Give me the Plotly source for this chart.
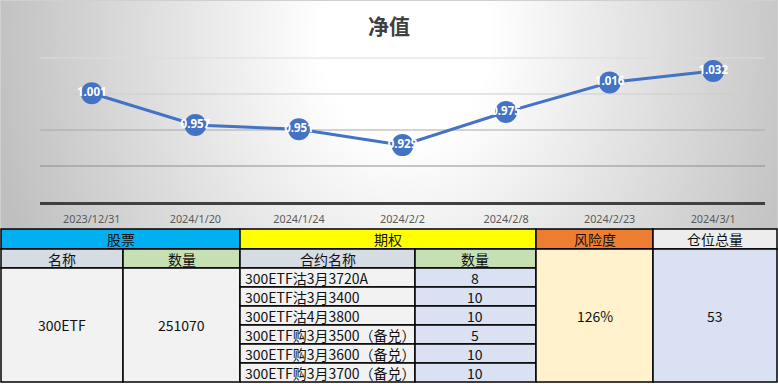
import base64
import plotly.graph_objects as go

# ---------------- data ----------------
dates = ["2023/12/31", "2024/1/20", "2024/1/24", "2024/2/2", "2024/2/8", "2024/2/23", "2024/3/1"]
nav = [1.001, 0.957, 0.951, 0.929, 0.975, 1.016, 1.032]

chart_title = "净值"
stock_header = "股票"
option_header = "期权"
risk_header = "风险度"
position_header = "仓位总量"
sub_headers = ["名称", "数量", "合约名称", "数量"]
stock_names = ["300ETF"]
stock_qty = [251070]
contracts = ["300ETF沽3月3720A", "300ETF沽3月3400", "300ETF沽4月3800",
             "300ETF购3月3500（备兑）", "300ETF购3月3600（备兑）", "300ETF购3月3700（备兑）"]
contract_qty = [8, 10, 10, 5, 10, 10]
risk_value = "126%"
total_position = [53]

# ---------------- layout helpers ----------------
W, H = 778, 384


def px(x):
    return x / W


def py(y):
    return 1 - y / H


CHART_BOTTOM = 229
COLS = [1, 123, 240, 415, 536, 653, 777]
ROWS = [229, 249, 268, 287, 306, 325, 344, 363, 382]

# radial gradient background as svg
CX, CY, R = 405, 40, 420
svg = f'''<svg xmlns="http://www.w3.org/2000/svg" width="{W}" height="{CHART_BOTTOM}" viewBox="0 0 {W} {CHART_BOTTOM}" preserveAspectRatio="none">
<defs><radialGradient id="g" gradientUnits="userSpaceOnUse" cx="{CX}" cy="{CY}" r="{R}"
 gradientTransform="translate({CX} {CY}) scale(1 1.2) translate(-{CX} -{CY})">
<stop offset="0" stop-color="#ffffff"/><stop offset="0.2" stop-color="#ffffff"/>
<stop offset="1" stop-color="#bfbfbf"/></radialGradient></defs>
<rect x="0" y="0" width="{W}" height="{CHART_BOTTOM}" fill="url(#g)"/></svg>'''
svg_uri = "data:image/svg+xml;base64," + base64.b64encode(svg.encode()).decode()

fig = go.Figure()
fig.add_trace(go.Scatter(
    x=dates, y=nav, mode="lines+markers+text",
    text=[f"{v:.3f}" for v in nav], textposition="middle center",
    textfont=dict(color="white", size=11.5, family="Noto Sans", weight="bold"),
    line=dict(color="#4472C4", width=3),
    marker=dict(color="#4472C4", size=22),
    cliponaxis=False, hoverinfo="skip", showlegend=False,
))

shapes = []
annotations = []

# axis range / gridlines (gridline tone darkens towards the bottom, as in the source)
Y0, Y1, DT = 0.85, 1.056, 0.05
grid_vals = [round(Y0 + DT * k, 2) for k in range(1, 5)]
grid_cols = ["#8E8E8E", "#A8A8A8", "#CDCDCD", "#DCDCDC"]
for gv, gc in zip(grid_vals, grid_cols):
    shapes.append(dict(type="line", xref="paper", yref="y", x0=px(40), x1=px(765), y0=gv, y1=gv,
                       line=dict(color=gc, width=1), layer="below"))

# chart border
shapes.append(dict(type="rect", xref="paper", yref="paper", x0=px(0.5), x1=px(777.5),
                   y0=py(CHART_BOTTOM), y1=py(0.5), line=dict(color="#D0D0D0", width=1), layer="below"))

annotations.append(dict(text=f"<b>{chart_title}</b>", x=0.5, y=py(25), xref="paper", yref="paper",
                        showarrow=False, xanchor="center", yanchor="middle",
                        font=dict(size=21, color="#404040", family="Noto Sans CJK SC")))

TFONT = dict(size=14, color="#111111", family="Noto Sans CJK SC")


def cell(x0, x1, y0, y1, fill, text=None, align="center"):
    shapes.append(dict(type="rect", xref="paper", yref="paper",
                       x0=px(x0), x1=px(x1), y0=py(y1), y1=py(y0),
                       fillcolor=fill, line=dict(color="#000000", width=1.5), layer="above"))
    if text is not None:
        if align == "left":
            ax, anchor = px(x0 + 3), "left"
        else:
            ax, anchor = px((x0 + x1) / 2), "center"
        annotations.append(dict(text=str(text), x=ax, y=py((y0 + y1) / 2), xref="paper", yref="paper",
                                showarrow=False, xanchor=anchor, yanchor="middle", font=TFONT))


# header row
cell(COLS[0], COLS[2], ROWS[0], ROWS[1], "#00B0F0", stock_header)
cell(COLS[2], COLS[4], ROWS[0], ROWS[1], "#FFFF00", option_header)
cell(COLS[4], COLS[5], ROWS[0], ROWS[1], "#ED7D31", risk_header)
cell(COLS[5], COLS[6], ROWS[0], ROWS[1], "#EDEDED", position_header)
# sub headers
sub_fills = ["#D6DCE4", "#C6E0B4", "#D6DCE4", "#C6E0B4"]
for i, (t, f) in enumerate(zip(sub_headers, sub_fills)):
    cell(COLS[i], COLS[i + 1], ROWS[1], ROWS[2], f, t)
# stock merged cells
cell(COLS[0], COLS[1], ROWS[2], ROWS[-1], "#F2F2F2", stock_names[0])
cell(COLS[1], COLS[2], ROWS[2], ROWS[-1], "#F2F2F2", stock_qty[0])
# options rows
for r, (name, q) in enumerate(zip(contracts, contract_qty)):
    cell(COLS[2], COLS[3], ROWS[2 + r], ROWS[3 + r], "#F2F2F2", name, align="left")
    cell(COLS[3], COLS[4], ROWS[2 + r], ROWS[3 + r], "#D9E1F2", q)
# risk and total
cell(COLS[4], COLS[5], ROWS[1], ROWS[-1], "#FFF2CC", risk_value)
cell(COLS[5], COLS[6], ROWS[1], ROWS[-1], "#D9E1F2", total_position[0])

PIX_PER = 144 / 0.2
top_pix = 202 - (Y1 - Y0) * PIX_PER

fig.update_layout(
    width=W, height=H, margin=dict(l=0, r=0, t=0, b=0),
    paper_bgcolor="white", plot_bgcolor="rgba(0,0,0,0)",
    shapes=shapes, annotations=annotations,
    images=[dict(source=svg_uri, xref="paper", yref="paper", x=0, y=1,
                 sizex=1, sizey=CHART_BOTTOM / H, sizing="stretch", layer="below",
                 xanchor="left", yanchor="top")],
    xaxis=dict(type="category", range=[-0.5, 6.5], domain=[px(40), px(765)],
               showline=True, linecolor="#404040", linewidth=2.5, showgrid=False,
               ticks="outside", ticklen=5, tickcolor="rgba(0,0,0,0)",
               tickfont=dict(size=10.8, color="#595959", family="Noto Sans"), fixedrange=True),
    yaxis=dict(range=[Y0, Y1], domain=[py(202), py(top_pix)], dtick=DT, tick0=Y0,
               showgrid=False, zeroline=False, showticklabels=False, showline=False, fixedrange=True),
)

fig.write_html("out.html")
